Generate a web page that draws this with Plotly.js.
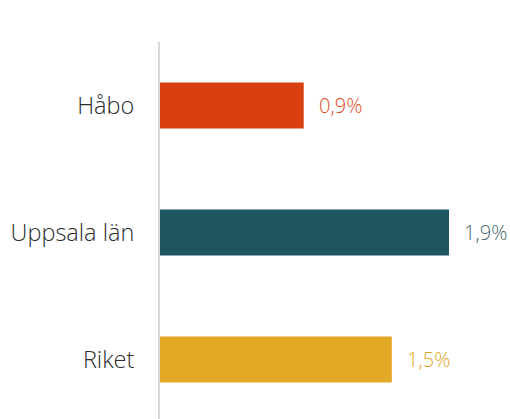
<!DOCTYPE html>
<html><head><meta charset="utf-8">
<script src="https://cdn.plot.ly/plotly-3.0.1.min.js"></script>
<style>html,body{margin:0;padding:0;background:#fff}#chart{width:510px;height:419px}</style>
</head><body><div id="chart"></div>
<script>
const categories = ["Håbo", "Uppsala län", "Riket"];
const values = [0.93, 1.87, 1.5];
const valueLabels = ["0,9%", "1,9%", "1,5%"];
const barColors = ["#D84012", "#1F555E", "#E3A826"];
const labelColors = ["#DA4A1C", "#45696F", "#E3A628"];

const annotations = categories.map((c, i) => ({
  x: values[i], y: c, xref: "x", yref: "y", text: valueLabels[i],
  showarrow: false, xanchor: "left", xshift: 13,
  font: {family: "'Open Sans', sans-serif", size: 20, color: labelColors[i], weight: 300}
}));

Plotly.newPlot("chart", [{
  type: "bar", orientation: "h", x: values, y: categories,
  marker: {color: barColors}, width: 0.362, hoverinfo: "skip"
}], {
  width: 510, height: 419,
  margin: {l: 160, r: 10, t: 42, b: 0},
  paper_bgcolor: "#fff", plot_bgcolor: "#fff",
  xaxis: {range: [0, 2.2], visible: false, fixedrange: true},
  yaxis: {type: "category", range: [2.469, -0.5], showgrid: false, zeroline: false,
    showline: true, linecolor: "#D9D9D9", linewidth: 2, ticks: "", ticklabelstandoff: 19,
    tickfont: {family: "'Open Sans', sans-serif", size: 23.5, color: "#2B2B2B", weight: 300}},
  annotations: annotations,
  showlegend: false
}, {staticPlot: true});
</script></body></html>
